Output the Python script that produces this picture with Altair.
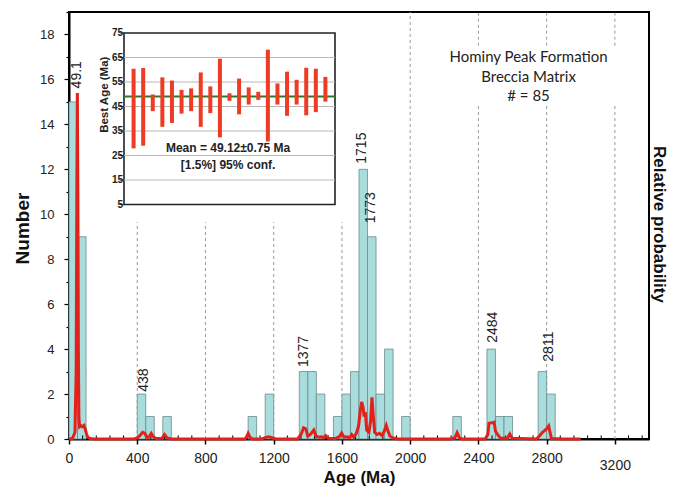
import altair as alt
import pandas as pd

# ---------------- data ----------------
# histogram, 50 Ma bins (only non-empty bins)
bin_start = [0, 50, 400, 450, 550, 1050, 1150, 1350, 1400, 1450, 1550, 1600, 1650,
             1700, 1750, 1800, 1850, 1950, 2250, 2450, 2500, 2550, 2750, 2800]
bin_count = [15, 9, 2, 1, 1, 1, 2, 3, 3, 2, 1, 2, 3, 12, 9, 2, 4, 1, 1, 4, 1, 1, 3, 2]
BIN_WIDTH = 50

# relative probability curve (drawn in count-equivalent units)
pdp_age = [0, 20, 35, 42, 46, 49, 52, 55, 58, 62, 70, 80, 88, 95, 102, 110, 125, 150,
           380, 400, 415, 432, 445, 458, 470, 482, 494, 510, 545, 560, 575, 600,
           1030, 1040, 1050, 1060, 1075, 1130, 1150, 1170, 1190, 1210,
           1340, 1360, 1375, 1388, 1400, 1415, 1435, 1448, 1465, 1480, 1492, 1505, 1520,
           1560, 1585, 1598, 1612, 1630, 1645, 1657, 1670, 1686, 1698, 1708, 1716, 1724,
           1730, 1737, 1745, 1758, 1768, 1776, 1784, 1792, 1805, 1820, 1835, 1848, 1860,
           1870, 1882, 1900, 1930, 2240, 2262, 2275, 2288, 2305,
           2440, 2455, 2462, 2480, 2492, 2500, 2512, 2530, 2570, 2584, 2598,
           2740, 2760, 2775, 2790, 2805, 2812, 2820, 2828, 2900, 3000]
pdp_value = [0, 0.02, 0.3, 3.0, 11.0, 15.4, 11.0, 4.0, 1.0, 0.55, 0.6, 0.55, 0.6, 0.45, 0.25, 0.08, 0.02, 0,
             0, 0.05, 0.15, 0.3, 0.25, 0.05, 0.1, 0.25, 0.1, 0.02, 0.03, 0.2, 0.05, 0,
             0, 0.08, 0.25, 0.08, 0, 0, 0.06, 0.1, 0.06, 0,
             0, 0.2, 0.5, 0.45, 0.12, 0.2, 0.4, 0.12, 0.08, 0.1, 0.06, 0.15, 0.03,
             0.02, 0.1, 0.27, 0.08, 0.1, 0.05, 0.2, 0.08, 0.27, 0.6, 1.3, 1.65, 1.4,
             1.0, 1.2, 0.4, 0.3, 0.8, 1.85, 1.0, 0.3, 0.2, 0.25, 0.15, 0.35, 0.6,
             0.35, 0.12, 0.04, 0, 0, 0.05, 0.28, 0.06, 0,
             0, 0.2, 0.7, 0.72, 0.75, 0.35, 0.2, 0.03, 0.03, 0.22, 0.03,
             0, 0.15, 0.3, 0.38, 0.5, 0.58, 0.3, 0.02, 0, 0]

# peak age labels
peak_text = ["49.1", "438", "1377", "1715", "1773", "2484", "2811"]
peak_age = [49.1, 438, 1377, 1715, 1773, 2484, 2811]
peak_level = [15.6, 2.1, 3.2, 12.25, 9.6, 4.28, 3.44]

# dashed vertical guide segments (age, from, to) in count units
grid_age = [400, 800, 1200, 1600, 2000, 2400, 2400, 2800, 2800, 3200, 3200]
grid_from = [0, 0, 0, 0, 0, 0, 17.5, 0, 17.5, 0, 17.5]
grid_to = [9.65, 9.65, 9.65, 9.65, 19, 14.85, 19, 14.85, 19, 14.85, 19]

sample_lines = ["Hominy Peak Formation", "Breccia Matrix", "# = 85"]

# inset: weighted-mean plot of the youngest grains
inset_low = [27.9, 29.0, 43.1, 36.7, 38.3, 42.1, 43.1, 36.7, 42.3, 32.4, 47.3,
             41.8, 45.8, 47.7, 30.7, 45.8, 41.2, 45.8, 41.4, 42.7, 47.0]
inset_high = [60.4, 60.7, 49.9, 56.9, 55.6, 51.8, 52.4, 58.9, 53.2, 64.5, 50.4,
              56.4, 52.8, 51.0, 68.2, 54.4, 59.2, 55.9, 60.8, 60.4, 57.1]
inset_mean = 49.12
inset_ticks = [5, 15, 25, 35, 45, 55, 65, 75]
inset_text = ["Mean = 49.12\u00b10.75 Ma", "[1.5%]  95% conf."]

# ---------------- frames ----------------
hist_df = pd.DataFrame({"start": bin_start, "count": bin_count})
hist_df["end"] = hist_df["start"] + BIN_WIDTH
hist_df["base"] = 0
pdp_df = pd.DataFrame({"age": pdp_age, "p": pdp_value})
peak_df = pd.DataFrame({"age": peak_age, "level": peak_level, "label": peak_text})
grid_df = pd.DataFrame({"age": grid_age, "lo": grid_from, "hi": grid_to})
minor_df = pd.DataFrame({"age": [a for a in range(80, 3400, 80) if a % 400 != 0]})
minor_df["lo"] = 0.0
minor_df["hi"] = 0.16
info_df = pd.DataFrame({"x": [2694], "y": [16.98]})

n = len(inset_low)
inset_df = pd.DataFrame({"i": list(range(1, n + 1)), "low": inset_low, "high": inset_high})
inset_box = pd.DataFrame({"x0": [0], "x1": [n + 1], "y0": [5], "y1": [75]})
inset_grid = pd.DataFrame({"y": inset_ticks[1:-1], "x0": 0, "x1": n + 1})
inset_mean_df = pd.DataFrame({"y": [inset_mean], "x0": [0], "x1": [n + 1]})
inset_tick_df = pd.DataFrame({"y": inset_ticks, "x": 0.0, "xt": -0.45, "t": [str(v) for v in inset_ticks]})
inset_text_df = pd.DataFrame({"x": [10.85, 10.85], "y": [27.9, 21.3], "t": inset_text})
inset_title_df = pd.DataFrame({"x": [-1.65], "y": [49.8], "t": ["Best Age (Ma)"]})

# ---------------- scales ----------------
W, H = 580, 427
FONT = "Liberation Sans"
xs = alt.Scale(domain=[0, 3400], nice=False, zero=False)
ys = alt.Scale(domain=[0, 19], nice=False)
ixs = alt.Scale(domain=[0, n + 1], range=[55, 266], nice=False, zero=False)
iys = alt.Scale(domain=[5, 75], range=[192.5, 21], nice=False, zero=False)

# ---------------- main layers ----------------
grid = alt.Chart(grid_df).mark_rule(color="#9a9a9a", strokeWidth=1, strokeDash=[3, 3]).encode(
    x=alt.X("age:Q", scale=xs, axis=None),
    y=alt.Y("lo:Q", scale=ys, axis=None),
    y2="hi:Q",
)

bars = alt.Chart(hist_df).mark_bar(fill="#a9dcdc", stroke="#6b8c8d", strokeWidth=0.8).encode(
    x=alt.X("start:Q", scale=xs, axis=alt.Axis(
        values=[0, 400, 800, 1200, 1600, 2000, 2400, 2800, 3200], grid=False, format="d",
        tickSize=5, tickColor="black", tickWidth=1.5,
        domainColor="black", domainWidth=2,
        labelFont=FONT, labelFontSize=14, labelColor="#222", labelFlush=False,
        labelPadding={"condition": {"test": "datum.value === 3200", "value": 14}, "value": 7},
        title="Age (Ma)", titleFont=FONT, titleFontSize=17, titleFontWeight="bold",
        titleColor="#111", titleY=43, titleBaseline="alphabetic")),
    x2="end:Q",
    y=alt.Y("count:Q", scale=ys, axis=alt.Axis(
        values=list(range(0, 20)), grid=False,
        labelExpr="datum.value % 2 === 0 ? datum.label : ''",
        tickSize={"condition": {"test": "datum.value % 2 === 0", "value": 5}, "value": 3},
        tickColor="black", tickWidth=1.2,
        domainColor="black", domainWidth=2,
        labelFont=FONT, labelFontSize=13, labelColor="#222", labelPadding=10,
        title="Number", titleFont=FONT, titleFontSize=19, titleFontWeight="bold",
        titleColor="#111", titleAngle=270, titleX=-41, titleY=216,
        titleAlign="center", titleBaseline="alphabetic")),
    y2="base:Q",
)

minor = alt.Chart(minor_df).mark_rule(color="black", strokeWidth=1).encode(
    x=alt.X("age:Q", scale=xs, axis=None),
    y=alt.Y("lo:Q", scale=ys, axis=None),
    y2="hi:Q",
)

curve = alt.Chart(pdp_df).mark_line(color="#e3211b", strokeWidth=3).encode(
    x=alt.X("age:Q", scale=xs, axis=None),
    y=alt.Y("p:Q", scale=ys, axis=alt.Axis(
        orient="right", labels=False, ticks=False, domain=False, grid=False,
        title="Relative probability", titleFont=FONT, titleFontSize=17,
        titleFontWeight="bold", titleColor="#111", titleAngle=90,
        titleX=4, titleY=212, titleAlign="center", titleBaseline="alphabetic")),
)

peaks = alt.Chart(peak_df).mark_text(angle=270, align="left", baseline="middle",
                                     font=FONT, fontSize=14, color="#222").encode(
    x=alt.X("age:Q", scale=xs, axis=None),
    y=alt.Y("level:Q", scale=ys, axis=None),
    text="label:N",
)

info = alt.Chart(info_df).mark_text(font="Lato", fontSize=15, baseline="middle",
                                    lineHeight=19.5, color="#222").encode(
    x=alt.X("x:Q", scale=xs, axis=None),
    y=alt.Y("y:Q", scale=ys, axis=None),
    text=alt.value(sample_lines),
)

# ---------------- inset layers ----------------
ibox = alt.Chart(inset_box).mark_rect(fill="white", stroke="#222", strokeWidth=1.6).encode(
    x=alt.X("x0:Q", scale=ixs, axis=None), x2="x1:Q",
    y=alt.Y("y0:Q", scale=iys, axis=None), y2="y1:Q",
)
igrid = alt.Chart(inset_grid).mark_rule(color="#b8b8b8", strokeWidth=1).encode(
    x=alt.X("x0:Q", scale=ixs, axis=None), x2="x1:Q",
    y=alt.Y("y:Q", scale=iys, axis=None),
)
imean = alt.Chart(inset_mean_df).mark_rule(color="#2b7a2b", strokeWidth=2).encode(
    x=alt.X("x0:Q", scale=ixs, axis=None), x2="x1:Q",
    y=alt.Y("y:Q", scale=iys, axis=None),
)
ibars = alt.Chart(inset_df).mark_rule(color="#ee3b24", strokeWidth=4).encode(
    x=alt.X("i:Q", scale=ixs, axis=None),
    y=alt.Y("low:Q", scale=iys, axis=None), y2="high:Q",
)
iticks = alt.Chart(inset_tick_df).mark_rule(color="#222", strokeWidth=1).encode(
    x=alt.X("xt:Q", scale=ixs, axis=None), x2="x:Q",
    y=alt.Y("y:Q", scale=iys, axis=None),
)
itlabels = alt.Chart(inset_tick_df).mark_text(align="right", baseline="middle", dx=-1,
                                              font=FONT, fontSize=10, fontWeight="bold",
                                              color="#222").encode(
    x=alt.X("x:Q", scale=ixs, axis=None),
    y=alt.Y("y:Q", scale=iys, axis=None),
    text="t:N",
)
itext = alt.Chart(inset_text_df).mark_text(align="center", baseline="middle",
                                           font=FONT, fontSize=12, fontWeight="bold",
                                           color="#222").encode(
    x=alt.X("x:Q", scale=ixs, axis=None),
    y=alt.Y("y:Q", scale=iys, axis=None),
    text="t:N",
)
ititle = alt.Chart(inset_title_df).mark_text(angle=270, align="center", baseline="alphabetic",
                                             font=FONT, fontSize=11.5, fontWeight="bold",
                                             color="#222").encode(
    x=alt.X("x:Q", scale=ixs, axis=None),
    y=alt.Y("y:Q", scale=iys, axis=None),
    text="t:N",
)

chart = alt.layer(
    grid, bars, minor, curve, peaks, info,
    ibox, igrid, imean, ibars, iticks, itlabels, itext, ititle,
).resolve_scale(
    x="independent", y="independent"
).properties(
    width=W, height=H, autosize="none",
    padding={"left": 61, "top": 4, "right": 19, "bottom": 47},
).configure_view(stroke="black", strokeWidth=2)

chart.save("out.html", embed_options={"renderer": "svg", "actions": False})
